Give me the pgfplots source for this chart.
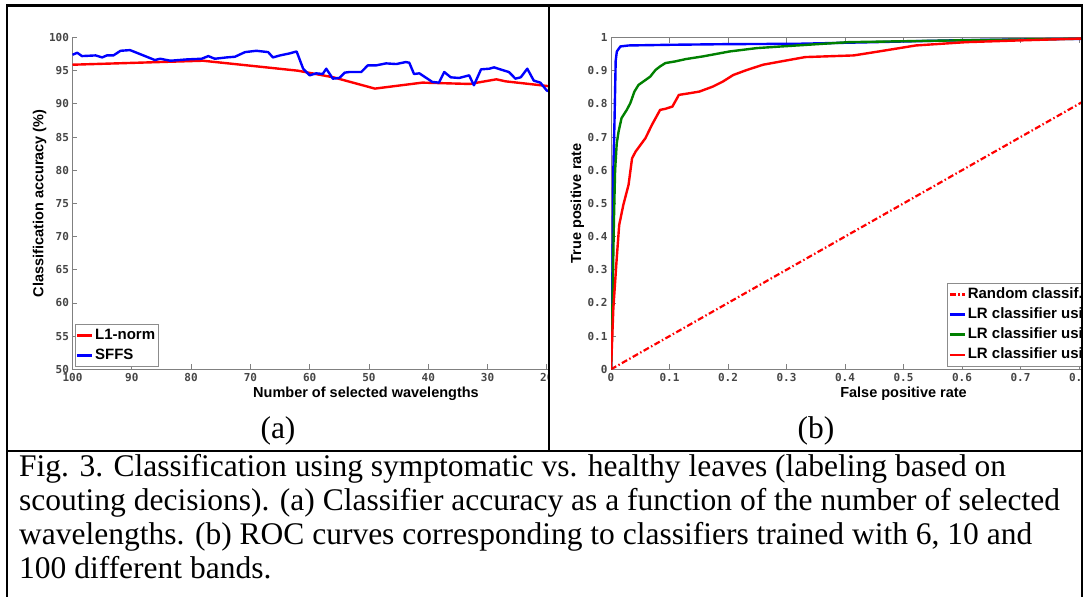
\documentclass[border=0pt]{standalone}
\usepackage{pgfplots}
\pgfplotsset{compat=1.18}
\usepackage{fontspec}
\setmainfont{Liberation Serif}
\newfontfamily\capfont{Liberation Serif}
\newfontfamily\lblfont{Liberation Sans}
\newfontfamily\tickfont{DejaVu Sans Mono}

\definecolor{axgray}{RGB}{128,128,128}
\definecolor{tkgray}{RGB}{70,70,70}
\definecolor{mblue}{RGB}{0,0,255}
\definecolor{mgreen}{RGB}{0,128,0}
\definecolor{mred}{RGB}{255,0,0}

\pgfplotsset{
  matfig/.style={
    scale only axis,
    /pgf/number format/assume math mode=true,
    axis line style={axgray, line width=0.9pt},
    every tick/.style={axgray, line width=0.8pt},
    major tick length=5pt,
    tick label style={font=\tickfont\bfseries\fontsize{11}{13}\selectfont, text=tkgray},
    label style={font=\lblfont\bfseries\fontsize{14.5}{17}\selectfont, text=black},
    legend style={font=\lblfont\bfseries\fontsize{15}{17}\selectfont, draw=black!45, fill=white,
      inner sep=1pt, row sep=0pt, nodes={inner sep=1.8pt, text height=12pt, text depth=4.5pt}},
    legend cell align=left,
    legend image code/.code={\draw[#1] (0pt,0pt) -- (15pt,0pt);},
  },
  curve/.style={line width=2.4pt, line join=round},
}

\begin{document}
\begin{tikzpicture}[x=1pt,y=1pt]
\path[use as bounding box] (0pt,0pt) rectangle (1091pt,-597pt);

% (a) accuracy vs number of wavelengths
\begin{scope}
\clip (8pt,-7pt) rectangle (548pt,-450pt);
\begin{axis}[matfig,
  at={(366pt,-203.4pt)}, anchor=center,
  width=587pt, height=331.8pt,
  x dir=reverse, xmin=1, xmax=100, ymin=50, ymax=100,
  xtick={10,20,...,100}, ytick={50,55,...,100},
  axis lines*=left,
  xlabel={Number of selected wavelengths},
  ylabel={Classification accuracy (\%)},
  xlabel style={at={(axis description cs:0.5,-0.0844)}, anchor=base},
  ylabel style={at={(axis description cs:-0.0562,0.5)}, anchor=center},
  legend style={at={(axis description cs:0,0)}, anchor=south west, xshift=2.2pt, yshift=2.6pt},
]
\addplot[curve, mred] coordinates {
 (100,95.9) (78,96.5) (62,95.0) (56,94.0) (49,92.3) (41,93.2) (33,93.0)
 (28.5,93.7) (27,93.4) (20,92.7) (18,92.5) };
\addlegendentry{L1-norm}
\addplot[curve, mblue] coordinates {
 (100,97.4) (99.2,97.7) (98.4,97.2) (96.1,97.3) (95.0,97.0) (94.2,97.3) (93.1,97.3)
 (91.9,98.0) (90.3,98.1) (88.6,97.5) (86.1,96.6) (85.2,96.8) (83.5,96.5) (82.1,96.6)
 (80.7,96.7) (78.2,96.8) (77.1,97.2) (76.0,96.8) (74.0,97.0) (72.6,97.1) (70.9,97.8)
 (69.0,98.0) (67.0,97.8) (66.2,97.0) (65.0,97.3) (63.4,97.6) (62.2,97.9) (61.1,95.3)
 (60.0,94.3) (58.9,94.6) (57.8,94.5) (57.2,95.3) (56.1,93.8) (55.0,93.9) (54.1,94.7)
 (53.3,94.8) (51.3,94.8) (50.2,95.8) (48.8,95.8) (47.1,96.1) (45.4,96.0) (43.8,96.3)
 (43.2,96.2) (42.4,94.5) (41.5,94.6) (39.3,93.3) (38.2,93.2) (37.3,94.8) (36.2,94.0)
 (34.8,93.9) (33.1,94.3) (32.3,92.8) (31.1,95.2) (29.7,95.3) (28.9,95.5) (27.5,95.1)
 (26.4,94.8) (25.3,93.8) (24.4,94.0) (23.3,95.3) (22.2,93.5) (21.1,93.2) (20.0,92.0)
 (18.0,91.5) };
\addlegendentry{SFFS}
\end{axis}
\end{scope}

% (b) ROC curves
\begin{scope}
\clip (550pt,-7pt) rectangle (1081pt,-450pt);
\begin{axis}[matfig,
  at={(903.5pt,-203.4pt)}, anchor=center,
  width=585pt, height=331.8pt,
  xmin=0, xmax=1, ymin=0, ymax=1,
  xtick={0,0.1,...,1.0}, ytick={0,0.1,...,1.0},
  xlabel={False positive rate},
  ylabel={True positive rate},
  xlabel style={at={(axis description cs:0.5,-0.0844)}, anchor=base},
  ylabel style={at={(axis description cs:-0.0573,0.5)}, anchor=center},
  legend style={at={(axis description cs:0.575,0)}, anchor=south west, yshift=3.3pt},
]
\addplot[line width=2.2pt, mred, dash pattern=on 6pt off 2.5pt on 1.5pt off 2.5pt] coordinates {(0,0) (1,1)};
\addlegendentry{Random classif.}
\addplot[curve, mblue] coordinates {
 (0,0) (0.002,0.2) (0.003,0.4) (0.004,0.6) (0.006,0.75) (0.008,0.93) (0.010,0.958)
 (0.016,0.973) (0.03,0.976) (0.1,0.978) (0.2,0.980) (0.317,0.981) (0.45,0.986)
 (0.6,0.992) (0.8,0.996) (1,1) };
\addlegendentry{LR classifier using 100 bands}
\addplot[curve, mgreen] coordinates {
 (0,0) (0.001,0.05) (0.003,0.25) (0.005,0.45) (0.007,0.6) (0.0098,0.681) (0.013,0.717)
 (0.018,0.757) (0.027,0.782) (0.033,0.802) (0.040,0.837) (0.047,0.857) (0.059,0.872)
 (0.067,0.882) (0.076,0.902) (0.084,0.913) (0.093,0.923) (0.11,0.928) (0.128,0.935)
 (0.157,0.943) (0.203,0.958) (0.249,0.968) (0.291,0.973) (0.318,0.976) (0.406,0.986)
 (0.58,0.991) (0.83,0.997) (1,1) };
\addlegendentry{LR classifier using 10 bands}
\addplot[curve, mred] coordinates {
 (0,0) (0.004,0.184) (0.0098,0.335) (0.014,0.435) (0.021,0.495) (0.03,0.556)
 (0.036,0.636) (0.042,0.656) (0.059,0.697) (0.070,0.737) (0.084,0.782) (0.093,0.785)
 (0.105,0.792) (0.116,0.827) (0.134,0.832) (0.151,0.837) (0.174,0.852) (0.191,0.867)
 (0.209,0.887) (0.232,0.902) (0.26,0.918) (0.291,0.928) (0.332,0.941) (0.415,0.946)
 (0.458,0.958) (0.521,0.976) (0.607,0.986) (0.694,0.991) (0.826,0.998) (1,1) };
\addlegendentry{LR classifier using 6 bands}
\end{axis}
\end{scope}

% table frame
\begin{scope}[line width=2.2pt]
\draw (7pt,-5.5pt) -- (1082pt,-5.5pt);
\draw (7pt,-4.4pt) -- (7pt,-597pt);
\draw (1082pt,-4.4pt) -- (1082pt,-597pt);
\draw (549pt,-5.5pt) -- (549pt,-451pt);
\draw (7pt,-451pt) -- (1082pt,-451pt);
\end{scope}

\node[anchor=base, font=\capfont\fontsize{31.5}{34}\selectfont, inner sep=0pt] at (278pt,-438pt) {(a)};
\node[anchor=base, font=\capfont\fontsize{31.5}{34}\selectfont, inner sep=0pt] at (816pt,-438pt) {(b)};

\begin{scope}[every node/.style={anchor=base west, inner sep=0pt, font=\capfont\fontsize{31.5}{34}\selectfont}]
\node at (19pt,-476pt) {Fig. 3. Classification using symptomatic vs. healthy leaves (labeling based on};
\node at (19pt,-510pt) {scouting decisions). (a) Classifier accuracy as a function of the number of selected};
\node at (19pt,-544pt) {wavelengths. (b) ROC curves corresponding to classifiers trained with 6, 10 and};
\node at (19pt,-578pt) {100 different bands.};
\end{scope}
\end{tikzpicture}
\end{document}
